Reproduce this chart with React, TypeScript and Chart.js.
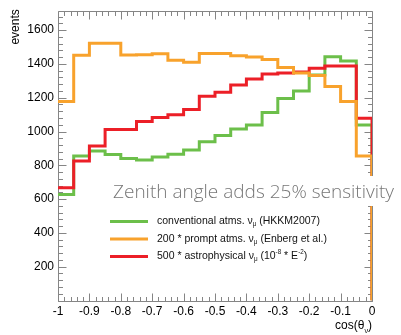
import React, { useEffect, useRef } from 'react';
import { Chart, registerables } from 'chart.js';

Chart.register(...registerables);

// Bin lower edges in cos(theta_nu), 20 bins of width 0.05
const binLow = [-1, -0.95, -0.9, -0.85, -0.8, -0.75, -0.7, -0.65, -0.6, -0.55, -0.5, -0.45, -0.4, -0.35, -0.3, -0.25, -0.2, -0.15, -0.1, -0.05];
const binHigh = 0;

const conventional = [628, 855, 884, 864, 841, 831, 849, 866, 890, 940, 977, 1015, 1038, 1112, 1195, 1240, 1335, 1443, 1418, 1038];
const prompt = [1178, 1451, 1522, 1522, 1453, 1455, 1460, 1422, 1410, 1462, 1462, 1449, 1441, 1426, 1379, 1346, 1332, 1267, 1178, 855];
const astro = [667, 826, 915, 1012, 1012, 1060, 1083, 1099, 1131, 1209, 1232, 1276, 1311, 1340, 1346, 1352, 1375, 1387, 1387, 1079];

const seriesNames = ['conventional', 'prompt', 'astro'];
const colors = { conventional: '#6cbf4a', prompt: '#f8a22c', astro: '#ec1f27' };

const Y_MAX = 1712;
const FONT = '"Liberation Sans", Arial, Helvetica, sans-serif';

type Part = { t: string; s?: 'sub' | 'sup' };

const legendItems: { color: string; parts: Part[] }[] = [
  { color: colors.conventional, parts: [{ t: 'conventional atms. ν' }, { t: 'μ', s: 'sub' }, { t: ' (HKKM2007)' }] },
  { color: colors.prompt, parts: [{ t: '200 * prompt atms. ν' }, { t: 'μ', s: 'sub' }, { t: ' (Enberg et al.)' }] },
  { color: colors.astro, parts: [{ t: '500 * astrophysical ν' }, { t: 'μ', s: 'sub' }, { t: ' (10' }, { t: '-8', s: 'sup' }, { t: ' * E' }, { t: '-2', s: 'sup' }, { t: ')' }] },
];
const xTitle: Part[] = [{ t: 'cos(θ' }, { t: 'ν', s: 'sub' }, { t: ')' }];
const yTitle = 'events';
const banner = 'Zenith angle adds 25% sensitivity';

function richWidth(ctx: CanvasRenderingContext2D, parts: Part[], size: number) {
  let w = 0;
  for (const p of parts) {
    const sz = p.s ? size * 0.6 : size;
    ctx.font = `${sz}px ${FONT}`;
    w += ctx.measureText(p.t).width;
  }
  return w;
}

function drawRich(ctx: CanvasRenderingContext2D, x: number, y: number, parts: Part[], size: number) {
  let cx = x;
  for (const p of parts) {
    const sz = p.s ? size * 0.6 : size;
    const dy = p.s === 'sub' ? size * 0.3 : p.s === 'sup' ? -size * 0.45 : 0;
    ctx.font = `${sz}px ${FONT}`;
    ctx.fillText(p.t, cx, y + dy);
    cx += ctx.measureText(p.t).width;
  }
}

function histPoints(vals: number[]) {
  const pts = binLow.map((x, i) => ({ x, y: vals[i] }));
  pts.push({ x: binHigh, y: 0 });
  return pts;
}

const framePlugin = {
  id: 'frame',
  beforeDatasetsDraw(chart: any) {
    const { ctx, chartArea: a, scales } = chart;
    const xs = scales.x;
    const ys = scales.y;
    ctx.save();
    ctx.strokeStyle = '#858585';
    ctx.lineWidth = 1;
    const L = Math.round(a.left) + 0.5;
    const R = Math.round(a.right) + 0.5;
    const T = Math.round(a.top) + 0.5;
    const B = Math.round(a.bottom) + 0.5;
    ctx.beginPath();
    ctx.rect(L, T, R - L, B - T);
    ctx.stroke();
    ctx.beginPath();
    for (let i = 0; i <= 50; i++) {
      const v = -1 + i * 0.02;
      const px = Math.round(xs.getPixelForValue(v)) + 0.5;
      const len = i % 5 === 0 ? 8 : 4.5;
      ctx.moveTo(px, B);
      ctx.lineTo(px, B - len);
      ctx.moveTo(px, T);
      ctx.lineTo(px, T + len);
    }
    for (let i = 0; i * 40 <= Y_MAX; i++) {
      const v = i * 40;
      const py = Math.round(ys.getPixelForValue(v)) + 0.5;
      const len = i % 5 === 0 ? 8 : 4.5;
      ctx.moveTo(L, py);
      ctx.lineTo(L + len, py);
      ctx.moveTo(R, py);
      ctx.lineTo(R - len, py);
    }
    ctx.stroke();
    ctx.restore();
  },
  afterDraw(chart: any) {
    const { ctx, chartArea: a } = chart;
    ctx.save();
    // axis titles
    ctx.fillStyle = '#000';
    ctx.textBaseline = 'alphabetic';
    const xs = 12;
    const w = richWidth(ctx, xTitle, xs);
    drawRich(ctx, a.right - w, 329, xTitle, xs);

    ctx.save();
    ctx.translate(19, a.top - 2);
    ctx.rotate(-Math.PI / 2);
    ctx.textAlign = 'right';
    ctx.font = `12px ${FONT}`;
    ctx.fillText(yTitle, 0, 0);
    ctx.restore();

    // banner with white box
    ctx.fillStyle = '#ffffff';
    ctx.fillRect(108, 176, 292, 30);
    ctx.fillStyle = '#777777';
    ctx.font = '300 19px "Open Sans", sans-serif';
    ctx.textAlign = 'left';
    ctx.fillText(banner, 113, 198);

    // legend
    const ys0 = [221.5, 239, 256.5];
    legendItems.forEach((it, i) => {
      ctx.strokeStyle = it.color;
      ctx.lineWidth = 3;
      ctx.beginPath();
      ctx.moveTo(110, ys0[i]);
      ctx.lineTo(148, ys0[i]);
      ctx.stroke();
      ctx.fillStyle = '#111';
      ctx.textBaseline = 'middle';
      drawRich(ctx, 157, ys0[i], it.parts, 10.5);
    });
    ctx.restore();
  },
};

export default function App() {
  const ref = useRef<HTMLCanvasElement | null>(null);
  useEffect(() => {
    if (!ref.current) return;
    const chart = new Chart(ref.current, {
      type: 'line',
      data: {
        datasets: [
          { label: seriesNames[0], data: histPoints(conventional), borderColor: colors.conventional, order: 2 },
          { label: seriesNames[1], data: histPoints(prompt), borderColor: colors.prompt, order: 0 },
          { label: seriesNames[2], data: histPoints(astro), borderColor: colors.astro, order: 1 },
        ].map((d) => ({ ...d, borderWidth: 3, pointRadius: 0, stepped: 'before' as const, fill: false, tension: 0 })),
      },
      options: {
        animation: false,
        responsive: false,
        devicePixelRatio: 1,
        layout: { padding: { left: 0, top: 7, right: 29, bottom: 0 } },
        plugins: { legend: { display: false }, tooltip: { enabled: false } },
        scales: {
          x: {
            type: 'linear',
            min: -1,
            max: 0,
            grid: { display: false, drawTicks: false },
            border: { display: false },
            ticks: {
              stepSize: 0.1,
              autoSkip: false,
              maxRotation: 0,
              padding: 4,
              color: '#000',
              font: { family: FONT, size: 12 },
              callback: (v: any) => String(Number(Number(v).toFixed(2))),
            },
            afterFit: (s: any) => { s.height = 34.5; },
          },
          y: {
            type: 'linear',
            min: 0,
            max: Y_MAX,
            grid: { display: false, drawTicks: false },
            border: { display: false },
            ticks: {
              stepSize: 200,
              includeBounds: false,
              padding: 4,
              color: '#000',
              font: { family: FONT, size: 12 },
              callback: (v: any) => (v === 0 ? null : String(v)),
            },
            afterFit: (s: any) => { s.width = 58; },
          },
        },
      },
      plugins: [framePlugin],
    } as any);
    return () => chart.destroy();
  }, []);
  return (
    <div style={{ position: 'absolute', left: 0, top: 0, width: 401, height: 335, background: '#fff' }}>
      <canvas ref={ref} width={401} height={335} style={{ display: 'block' }} />
    </div>
  );
}
